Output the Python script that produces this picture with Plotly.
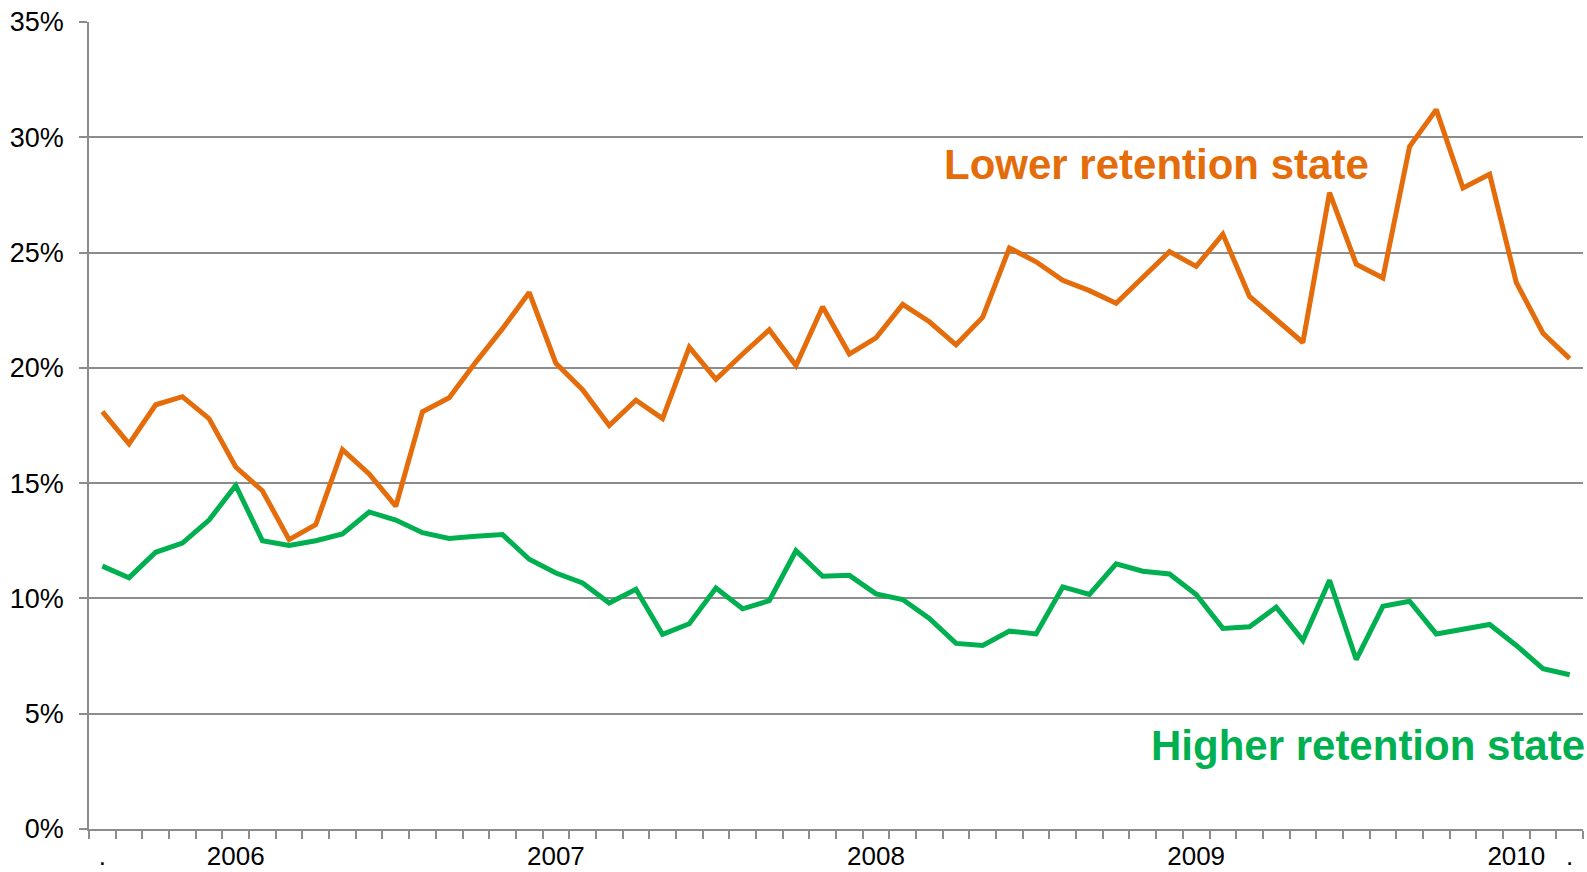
import plotly.graph_objects as go

# monthly observations, index 0..55
months = list(range(56))

lower_retention = [
    18.1, 16.7, 18.4, 18.75, 17.8, 15.7, 14.67, 12.55, 13.2, 16.45,
    15.4, 14.0, 18.1, 18.7, 20.25, 21.7, 23.27, 20.2, 19.05, 17.5,
    18.6, 17.8, 20.9, 19.5, 20.6, 21.65, 20.1, 22.65, 20.6, 21.3,
    22.75, 22.0, 21.0, 22.2, 25.2, 24.6, 23.8, 23.35, 22.8, 23.9,
    25.04, 24.4, 25.8, 23.1, 22.1, 21.1, 27.6, 24.5, 23.9, 29.6,
    31.2, 27.8, 28.4, 23.7, 21.5, 20.4,
]

higher_retention = [
    11.4, 10.9, 12.0, 12.4, 13.4, 14.9, 12.5, 12.3, 12.5, 12.8,
    13.75, 13.4, 12.85, 12.6, 12.7, 12.77, 11.7, 11.1, 10.67, 9.8,
    10.4, 8.44, 8.9, 10.45, 9.55, 9.9, 12.07, 10.96, 11.0, 10.2,
    9.95, 9.13, 8.05, 7.96, 8.58, 8.46, 10.5, 10.17, 11.5, 11.18,
    11.06, 10.17, 8.7, 8.77, 9.62, 8.18, 10.79, 7.35, 9.66, 9.88,
    8.46, 8.68, 8.87, 7.96, 6.95, 6.69,
]

label_pos = [0, 5, 17, 29, 41, 53, 55]
label_text = [".", "2006", "2007", "2008", "2009", "2010", "."]

ORANGE = "#E46C0A"
GREEN = "#00B050"
GRID = "#8C8C8C"
FONT = "Arial, Liberation Sans, sans-serif"

fig = go.Figure()
fig.add_trace(go.Scatter(x=months, y=lower_retention, mode="lines",
                         line=dict(color=ORANGE, width=5), showlegend=False))
fig.add_trace(go.Scatter(x=months, y=higher_retention, mode="lines",
                         line=dict(color=GREEN, width=5), showlegend=False))

# series labels
fig.add_annotation(x=0.571, y=28.8, xref="paper", yref="y", xanchor="left", yanchor="middle",
                   text="<b>Lower retention state</b>", showarrow=False,
                   font=dict(family=FONT, size=42, color=ORANGE))
fig.add_annotation(x=1.003, y=3.64, xref="paper", yref="y", xanchor="right", yanchor="middle",
                   text="<b>Higher retention state</b>", showarrow=False,
                   font=dict(family=FONT, size=42, color=GREEN))

fig.update_layout(
    width=1587, height=872,
    margin=dict(l=89, r=4, t=22, b=43),
    paper_bgcolor="white", plot_bgcolor="white",
    font=dict(family=FONT, size=27, color="#000000"),
)

fig.update_xaxes(
    range=[-0.5, 55.5], tickvals=label_pos, ticktext=label_text,
    ticks="", showgrid=False, zeroline=False, automargin=False,
    showline=True, linecolor=GRID, linewidth=1.5,
    minor=dict(ticks="outside", tick0=-0.5, dtick=1, ticklen=8,
               tickcolor=GRID, tickwidth=1.5, showgrid=False),
    ticklabelstandoff=3,
    tickfont=dict(size=26),
)
fig.update_yaxes(
    range=[0, 35], dtick=5, ticksuffix="%", automargin=False,
    showgrid=True, gridcolor=GRID, gridwidth=1.5, zeroline=False,
    showline=True, linecolor=GRID, linewidth=1.5,
    ticks="outside", ticklen=8, tickcolor=GRID, tickwidth=1.5,
    ticklabelstandoff=10,
    tickfont=dict(size=27),
)

fig.write_html("out.html", config={"displayModeBar": False},
               post_script="document.body.style.margin='0';document.body.style.overflow='hidden';")
